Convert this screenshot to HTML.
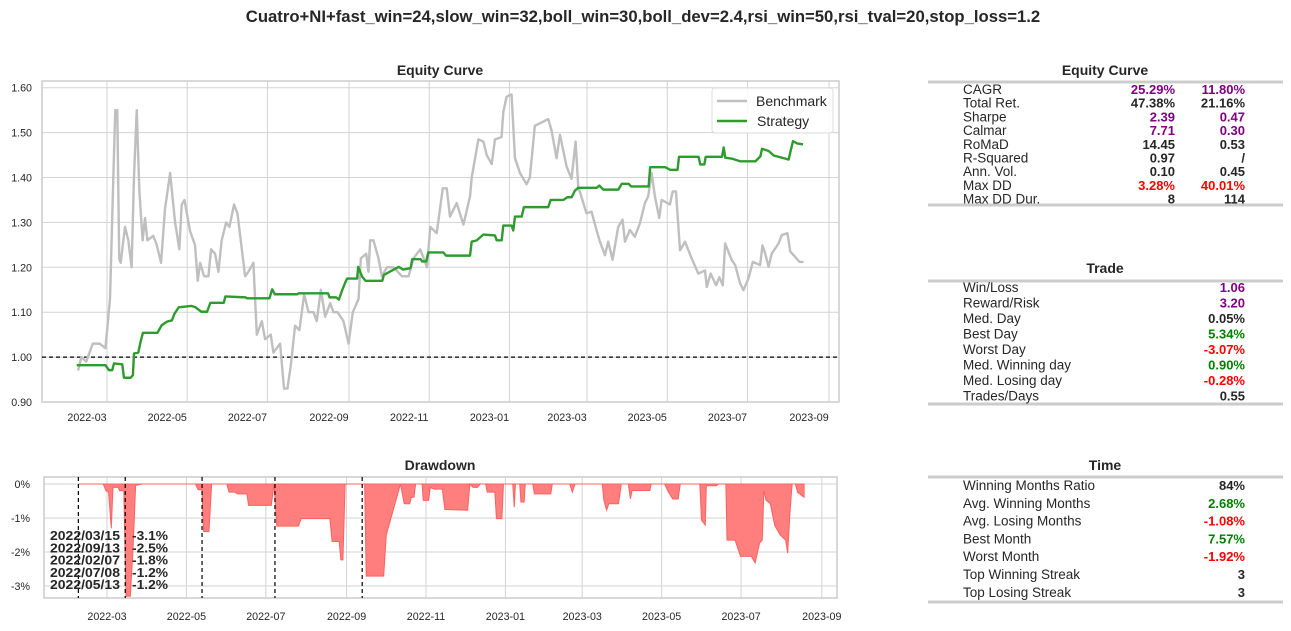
<!DOCTYPE html>
<html><head><meta charset="utf-8"><style>
body{margin:0;background:#fff;}
svg{display:block;font-family:"Liberation Sans",Arial,sans-serif;}
</style></head><body>
<svg id="fig" width="1291" height="631" viewBox="0 0 1291 631" xmlns="http://www.w3.org/2000/svg">
<rect width="1291" height="631" fill="#fff"/>
<text x="643" y="22" text-anchor="middle" font-size="16.7" font-weight="bold" fill="#262626">Cuatro+NI+fast_win=24,slow_win=32,boll_win=30,boll_dev=2.4,rsi_win=50,rsi_tval=20,stop_loss=1.2</text>
<g id="eq"></g>
<g id="dd"></g>
<g id="tables"></g>
</svg>
<script>
// ===== Equity chart data (day offsets from 2022-03-01) =====
const monthTickLabels = ["2022-03","2022-05","2022-07","2022-09","2022-11","2023-01","2023-03","2023-05","2023-07","2023-09"];
const monthTickDays = [0,61,122,184,245,306,365,426,487,549];
const eqYTicks = [0.90,1.00,1.10,1.20,1.30,1.40,1.50,1.60];
const benchDays = [-22,-19.5,-15.8,-10.8,-5.7,-1.2,2.3,4.8,6.3,7.8,9.3,10.4,13.7,16.2,18.7,20.5,22.6,24.6,27.1,28.9,30.7,35.2,37.8,41.1,44.1,48,49.7,51.8,55,56.8,58.9,63.2,66.9,69,70.8,73.8,77.1,79.1,82.2,84.7,87.2,90.6,93.1,96.6,99.2,101.7,105,107.5,111.3,113.9,117.7,120.2,124.5,126.5,131.6,134.6,137.2,139.7,143,146.3,149.9,153.2,157,159.5,162.6,165.9,169.7,172.2,175.3,179.8,183.7,186.9,191.3,193,197.1,198.8,200.1,202.6,206.4,209,212.8,217.9,224.3,229.3,233.1,238.2,243.3,245.8,250.7,255.3,258.3,260.8,265.9,271,276,277.3,282.4,286.2,288.7,292.5,295,300,301.3,303.8,307.6,310.2,314,319,321.5,325.3,335.5,338,341.8,344.4,349.4,353.2,356.3,358.3,364.6,368.4,372.2,374.8,378.6,381.1,384.4,388.7,392,393.8,397.6,401.4,405.2,409,411.5,414.1,416.6,419.9,421.7,428,430.1,432.6,435.7,439.5,444.5,449.6,454.7,456,459,463.1,465.6,468.2,470,475,477.6,481.4,483.9,487.7,491,496.6,498.4,500.4,503,505.5,510.6,513.1,517.4,519.5,523.3,526.6,529.6];
const benchVals = [0.97,1.00,0.99,1.03,1.03,1.02,1.13,1.40,1.55,1.55,1.22,1.21,1.29,1.26,1.20,1.40,1.55,1.37,1.26,1.31,1.26,1.27,1.25,1.21,1.33,1.41,1.36,1.30,1.24,1.34,1.35,1.28,1.25,1.17,1.21,1.18,1.18,1.24,1.23,1.19,1.26,1.30,1.29,1.34,1.32,1.26,1.18,1.19,1.21,1.05,1.08,1.04,1.05,1.01,1.03,0.93,0.93,0.98,1.07,1.06,1.14,1.10,1.10,1.08,1.15,1.09,1.12,1.10,1.10,1.08,1.03,1.10,1.13,1.22,1.23,1.19,1.26,1.26,1.22,1.18,1.20,1.20,1.18,1.18,1.22,1.24,1.20,1.29,1.276,1.376,1.376,1.313,1.343,1.295,1.358,1.40,1.485,1.48,1.45,1.43,1.485,1.49,1.545,1.58,1.585,1.443,1.41,1.385,1.40,1.515,1.53,1.505,1.443,1.495,1.425,1.397,1.48,1.38,1.32,1.324,1.283,1.257,1.227,1.257,1.217,1.29,1.306,1.257,1.283,1.268,1.298,1.343,1.358,1.41,1.358,1.31,1.35,1.34,1.369,1.369,1.238,1.257,1.22,1.186,1.193,1.156,1.186,1.16,1.178,1.16,1.253,1.216,1.205,1.164,1.149,1.175,1.212,1.205,1.249,1.231,1.201,1.231,1.253,1.272,1.276,1.235,1.223,1.212,1.212];
const stratDays = [-23,-1.2,1.5,4,5.3,11.6,12.9,18,19.7,20.5,23.8,25.5,27.3,38.3,41.6,45.6,49.4,51.2,54.5,64.1,67.2,71.8,76.1,78.6,88.8,90,105.3,106.5,123.5,125.6,127.6,144.6,145.8,168.1,169.2,174.2,176.3,178.8,181.4,182.6,190.2,191,194,196.6,209.3,210.5,221.9,225,230.8,232.1,238.4,239.7,242.7,244.3,255.8,257.8,276,277.3,281.1,286.2,295,296.3,300.1,301.3,307.6,308.9,310.2,315.3,317,335.5,337.3,346.9,350,353.3,355.8,358.3,372.3,374.4,377.4,388.8,391.4,396.5,398.6,411.8,413,424.4,428.2,433.8,434.9,449.8,451.1,454.2,455.2,467.6,468.9,470.1,475.2,481.6,493,496.8,498,503.1,506.9,515.8,518.3,519.6,521.6,524.6,529.2];
const stratVals = [0.982,0.982,0.971,0.971,0.986,0.984,0.954,0.954,0.96,1.008,1.01,1.034,1.054,1.054,1.071,1.079,1.082,1.096,1.111,1.114,1.111,1.101,1.101,1.121,1.121,1.135,1.133,1.131,1.131,1.151,1.14,1.14,1.142,1.142,1.133,1.133,1.128,1.149,1.168,1.175,1.175,1.201,1.179,1.17,1.17,1.183,1.201,1.195,1.198,1.218,1.218,1.213,1.213,1.233,1.233,1.226,1.226,1.257,1.26,1.273,1.271,1.26,1.26,1.293,1.293,1.282,1.313,1.313,1.334,1.334,1.35,1.35,1.356,1.356,1.371,1.377,1.377,1.382,1.373,1.373,1.386,1.386,1.38,1.38,1.423,1.423,1.417,1.417,1.446,1.446,1.429,1.429,1.446,1.446,1.467,1.444,1.442,1.436,1.436,1.447,1.464,1.459,1.449,1.442,1.44,1.457,1.481,1.476,1.474];
// ===== Drawdown data =====
const ddYTicks = [0,-1,-2,-3];
const ddDays = [-21.7,-2.9,-0.8,1.2,3.3,4.6,8.7,9.6,12.9,14.6,17.9,20,22,27,67.9,70,72.9,74.2,78.3,80.4,92,93.7,98.3,100,107.5,108.7,126.2,128.3,130.4,147,149.1,171.2,172.9,178.3,179.6,181.2,182.9,197.9,199.1,212.5,214.5,225.4,228.3,232.5,233.7,235.8,237,242,242.9,247,248.3,251.2,257.5,259.5,277,278.7,281.2,284.5,286.6,290.8,292,297.9,299.1,303.3,304.5,311.6,312.8,313.7,317,317.9,320.4,321.2,327,328.3,340.8,342,355.4,357.4,359.5,380.4,381.6,383.7,385.4,392.9,395,400.4,402,403.3,417,417.9,428.3,431.2,434.5,438.7,440.3,455.3,456.6,459.5,460.3,467.8,469.9,475.3,476.2,482.4,486.6,494.9,497.8,501.2,503.3,504.5,506.2,509.5,512.8,517,521.2,522.8,524.5,526.2,528.7,530.4,533.7,535.4];
const ddVals = [0,0,-0.2,-0.24,-1.3,-0.1,-0.1,-0.2,-0.2,-3.3,-3.3,-1.9,-0.04,0,0,-0.17,-0.17,-1.4,-1.4,0,0,-0.24,-0.24,-0.29,-0.29,-0.63,-0.63,0,-1.24,-1.24,-1.02,-1.02,-1.69,-1.69,-2.23,-2.23,0,0,-2.71,-2.71,-1.5,0,-0.58,-0.58,-0.39,-0.39,0,0,-0.48,-0.48,-0.1,-0.15,-0.15,-0.75,-0.77,0,-0.1,-0.1,0,0,-0.24,-0.24,-1.02,-1.02,0,0,-0.68,0,0,-0.53,-0.53,0,0,-0.29,-0.29,0,0,-0.24,0,0,-0.48,-0.77,-0.58,-0.58,0,0,-0.44,-0.19,-0.19,0,0,-0.24,-0.44,-0.44,0,0,-1.06,-1.21,-0.05,-0.05,0,0,-1.65,-1.65,-2.13,-2.13,-2.32,-1.74,-1.65,-0.19,-0.48,-0.58,-1.21,-1.5,-1.65,-2.03,-0.87,0,0,-0.24,-0.34,-0.39];
const ddMarkDays = [-22,14,73,129,196];
const ddLabelDates = ["2022/03/15","2022/09/13","2022/02/07","2022/07/08","2022/05/13"];
const ddLabelVals = ["-3.1%","-2.5%","-1.8%","-1.2%","-1.2%"];

const NS="http://www.w3.org/2000/svg";
function mk(tag,attrs,parent,text){const e=document.createElementNS(NS,tag);for(const k in attrs)e.setAttribute(k,attrs[k]);if(text!==undefined)e.textContent=text;parent.appendChild(e);return e;}

// ---- Equity chart ----
const eq=document.getElementById('eq');
const ex=d=>107+d*1.3152, ey=v=>402-(v-0.9)*449;
const EL=42,ER=839,ET=81,EB=402;
mk('text',{x:440,y:75,'text-anchor':'middle','font-size':14,'font-weight':'bold',fill:'#262626'},eq,'Equity Curve');
eqYTicks.forEach(v=>{const y=ey(v);
 mk('line',{x1:EL,x2:ER,y1:y,y2:y,stroke:'#d3d3d3','stroke-width':1},eq);
 const t=mk('text',{x:EL-10,y:y+4,'text-anchor':'end','font-size':10.7,fill:'#262626'},eq,v.toFixed(2));
 
 });
monthTickDays.forEach((d,i)=>{const x=ex(d);
 mk('line',{x1:x,x2:x,y1:ET,y2:EB,stroke:'#d3d3d3','stroke-width':1},eq);
 const t=mk('text',{x:x-20,y:421,'text-anchor':'middle','font-size':10.7,fill:'#262626'},eq,monthTickLabels[i]);
 
 });
mk('rect',{x:EL,y:ET,width:ER-EL,height:EB-ET,fill:'none',stroke:'#cccccc','stroke-width':1.5},eq);
mk('line',{x1:EL,x2:ER,y1:ey(1),y2:ey(1),stroke:'#000','stroke-width':1.2,'stroke-dasharray':'4,3'},eq);
const bp=mk('polyline',{points:benchDays.map((d,i)=>ex(d)+','+ey(benchVals[i])).join(' '),fill:'none',stroke:'#bfbfbf','stroke-width':2.4,'stroke-linejoin':'round'},eq);


const sp=mk('polyline',{points:stratDays.map((d,i)=>ex(d)+','+ey(stratVals[i])).join(' '),fill:'none',stroke:'#2e9b2e','stroke-width':2.4,'stroke-linejoin':'round'},eq);


const lg=mk('g',{},eq);


mk('rect',{x:712,y:88,width:121,height:45,rx:3,fill:'#fff','fill-opacity':0.85,stroke:'#dcdcdc'},lg);
mk('line',{x1:717,x2:747,y1:101,y2:101,stroke:'#bfbfbf','stroke-width':2.4},lg);
mk('text',{x:756,y:106,'font-size':14,fill:'#262626'},lg,'Benchmark');
mk('line',{x1:717,x2:747,y1:121,y2:121,stroke:'#2e9b2e','stroke-width':2.4},lg);
mk('text',{x:757,y:126,'font-size':14,fill:'#262626'},lg,'Strategy');

// ---- Drawdown chart ----
const dd=document.getElementById('dd');
const dx=d=>107+d*1.302, dy=p=>484-p*34;
const DL=44,DR=837,DT=477,DB=598;
mk('text',{x:440,y:470,'text-anchor':'middle','font-size':14,'font-weight':'bold',fill:'#262626'},dd,'Drawdown');
ddYTicks.forEach(p=>{const y=dy(p);
 mk('line',{x1:DL,x2:DR,y1:y,y2:y,stroke:'#d3d3d3','stroke-width':1},dd);
 const t=mk('text',{x:DL-14,y:y+4,'text-anchor':'end','font-size':10.7,fill:'#262626'},dd,p+'%');
 
 });
monthTickDays.forEach((d,i)=>{const x=dx(d);
 mk('line',{x1:x,x2:x,y1:DT,y2:DB,stroke:'#d3d3d3','stroke-width':1},dd);
 const t=mk('text',{x:x,y:620,'text-anchor':'middle','font-size':10.7,fill:'#262626'},dd,monthTickLabels[i]);
 
 });
mk('rect',{x:DL,y:DT,width:DR-DL,height:DB-DT,fill:'none',stroke:'#cccccc','stroke-width':1.5},dd);
const area='M'+dx(ddDays[0])+','+dy(0)+' '+ddDays.map((d,i)=>'L'+dx(d)+','+dy(ddVals[i])).join(' ')+' L'+dx(ddDays[ddDays.length-1])+','+dy(0)+'Z';
const ap=mk('path',{d:area,fill:'#ff7f7f',stroke:'#ff6060','stroke-width':1},dd);


ddMarkDays.forEach(d=>{const l=mk('line',{x1:dx(d),x2:dx(d),y1:DT,y2:DB,stroke:'#000','stroke-width':1.2,'stroke-dasharray':'4,3'},dd);
 
 });
ddLabelDates.forEach((s,i)=>{const y=540+i*12.3;
 const t1=mk('text',{x:50,y:y,'font-size':13,'font-weight':'bold',fill:'#262626',textLength:70,lengthAdjust:'spacingAndGlyphs'},dd,s);
 
 
 const t2=mk('text',{x:132,y:y,'font-size':13,'font-weight':'bold',fill:'#262626',textLength:36,lengthAdjust:'spacingAndGlyphs'},dd,ddLabelVals[i]);
 
 });

// ---- Tables ----
const tb=document.getElementById('tables');
const P='#800080',R='#ff0000',G='#008000',K='#262626';
function table(title,ty,lineY,rowY0,step,bottomY,rows,name){
 const g=mk('g',{},tb);
 
 
 mk('text',{x:1105,y:ty,'text-anchor':'middle','font-size':14,'font-weight':'bold',fill:K},g,title);
 mk('line',{x1:928,x2:1283,y1:lineY,y2:lineY,stroke:'#cccccc','stroke-width':3},g);
 mk('line',{x1:928,x2:1283,y1:bottomY,y2:bottomY,stroke:'#cccccc','stroke-width':3},g);
 rows.forEach((r,i)=>{const y=rowY0+i*step;
  mk('text',{x:963,y:y,'font-size':13.5,fill:K},g,r[0]);
  if(r.length===5) mk('text',{x:1175,y:y,'text-anchor':'end','font-size':13,'font-weight':'bold',fill:r[2]},g,r[1]);
  const v=r.length===5?r[3]:r[1], c=r.length===5?r[4]:r[2];
  mk('text',{x:1245,y:y,'text-anchor':'end','font-size':13,'font-weight':'bold',fill:c},g,v);});
}
table('Equity Curve',75,82,94,13.7,205,[
 ['CAGR','25.29%',P,'11.80%',P],['Total Ret.','47.38%',K,'21.16%',K],['Sharpe','2.39',P,'0.47',P],
 ['Calmar','7.71',P,'0.30',P],['RoMaD','14.45',K,'0.53',K],['R-Squared','0.97',K,'/',K],
 ['Ann. Vol.','0.10',K,'0.45',K],['Max DD','3.28%',R,'40.01%',R],['Max DD Dur.','8',K,'114',K]],'equity-metrics-table');
table('Trade',273,281,292,15.5,404,[
 ['Win/Loss','1.06',P],['Reward/Risk','3.20',P],['Med. Day','0.05%',K],['Best Day','5.34%',G],
 ['Worst Day','-3.07%',R],['Med. Winning day','0.90%',G],['Med. Losing day','-0.28%',R],['Trades/Days','0.55',K]],'trade-metrics-table');
table('Time',470,477,490,17.8,602,[
 ['Winning Months Ratio','84%',K],['Avg. Winning Months','2.68%',G],['Avg. Losing Months','-1.08%',R],
 ['Best Month','7.57%',G],['Worst Month','-1.92%',R],['Top Winning Streak','3',K],['Top Losing Streak','3',K]],'time-metrics-table');
</script>
</body></html>
